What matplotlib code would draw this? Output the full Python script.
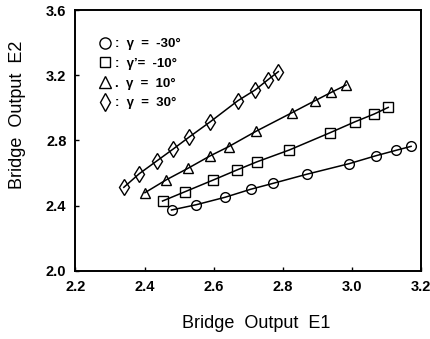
import matplotlib
matplotlib.use("Agg")
import matplotlib.pyplot as plt

# Bridge output pairs (E1, E2) for four yaw angles
e1_m30 = [2.478, 2.549, 2.633, 2.707, 2.773, 2.869, 2.992, 3.070, 3.128, 3.171]
e2_m30 = [2.374, 2.406, 2.452, 2.501, 2.538, 2.593, 2.658, 2.707, 2.740, 2.764]

e1_m10 = [2.452, 2.517, 2.599, 2.667, 2.726, 2.819, 2.937, 3.009, 3.064, 3.105]
e2_m10 = [2.429, 2.486, 2.558, 2.619, 2.670, 2.742, 2.848, 2.915, 2.962, 3.003]

e1_p10 = [2.401, 2.462, 2.526, 2.589, 2.643, 2.722, 2.827, 2.893, 2.940, 2.983]
e2_p10 = [2.480, 2.558, 2.630, 2.705, 2.762, 2.856, 2.971, 3.044, 3.095, 3.140]

e1_p30 = [2.340, 2.385, 2.435, 2.483, 2.529, 2.589, 2.670, 2.720, 2.756, 2.787]
e2_p30 = [2.513, 2.597, 2.674, 2.748, 2.821, 2.913, 3.044, 3.110, 3.171, 3.222]

labels = [":  \u03b3  =  -30\u00b0", ":  \u03b3\u2019=  -10\u00b0",
          ".  \u03b3  =  10\u00b0", ":  \u03b3  =  30\u00b0"]
markers = ["o", "s", "^", "d"]
marker_sizes = [7, 6.5, 7, 8]

xticks = [2.2, 2.4, 2.6, 2.8, 3.0, 3.2]
yticks = [2.0, 2.4, 2.8, 3.2, 3.6]

plt.rcParams["font.family"] = ["Liberation Sans", "DejaVu Sans"]

fig = plt.figure(figsize=(4.31, 3.39), dpi=100)
ax = fig.add_axes([0.175, 0.2006, 0.802, 0.7699])

series = [(e1_m30, e2_m30), (e1_m10, e2_m10), (e1_p10, e2_p10), (e1_p30, e2_p30)]
for (xs, ys), m, ms, lab in zip(series, markers, marker_sizes, labels):
    ax.plot(xs, ys, color="black", lw=1.1, marker=m, ms=ms,
            markerfacecolor="none", markeredgecolor="black", mew=1.0,
            label=lab)

ax.set_xlim(2.2, 3.2)
ax.set_ylim(2.0, 3.6)
ax.set_xticks(xticks)
ax.set_yticks(yticks)
ax.set_xticklabels([f"{v:.1f}" for v in xticks], fontsize=10.5, fontweight="bold")
ax.set_yticklabels([f"{v:.1f}" for v in yticks], fontsize=10.5, fontweight="bold")
ax.tick_params(direction="in", length=3, width=1, pad=6.5,
               top=False, right=False)
for s in ax.spines.values():
    s.set_linewidth(1.4)

leg = ax.legend(loc="upper left", bbox_to_anchor=(0.07, 0.912),
                frameon=False, handlelength=0, handletextpad=0.8,
                labelspacing=0.56, borderaxespad=0, markerscale=1.15,
                prop={"size": 9.5, "weight": "bold"})
for h in leg.legend_handles:
    h.set_linestyle("none")

fig.text(0.594, 0.047, "Bridge  Output  E1", ha="center", va="center",
         fontsize=13)
fig.text(0.04, 0.66, "Bridge  Output  E2", ha="center", va="center",
         fontsize=13, rotation=90)

fig.savefig("out.png", dpi=100)
